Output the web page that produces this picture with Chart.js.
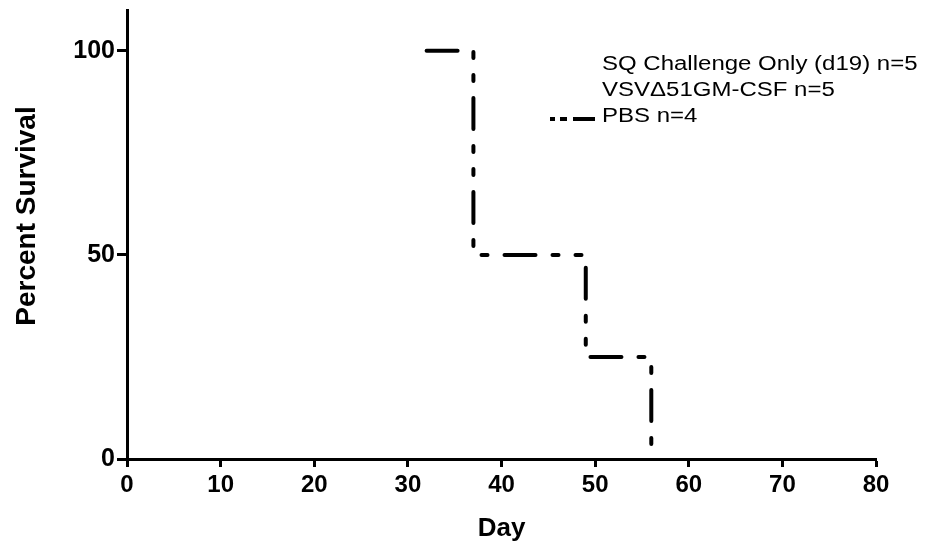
<!DOCTYPE html>
<html>
<head>
<meta charset="utf-8">
<script src="https://cdn.jsdelivr.net/npm/chart.js@4/dist/chart.umd.min.js"></script>
<style>
  html, body { margin: 0; padding: 0; background: #fff; }
</style>
</head>
<body>
<canvas id="survival" width="926" height="549"></canvas>
<script>
// series names as in the legend
const seriesNames = ['SQ Challenge Only (d19) n=5', 'VSV\u039451GM-CSF n=5', 'PBS n=4'];

// no visible curve for the first two groups in the figure
const sqDays = [];
const sqSurvival = [];
const vsvDays = [];
const vsvSurvival = [];

// PBS group, Kaplan-Meier steps (day, percent)
const pbsDays = [32, 37, 37, 49, 49, 56, 56];
const pbsSurvival = [100, 100, 50, 50, 25, 25, 0];

const xTicks = [0, 10, 20, 30, 40, 50, 60, 70, 80];
const yTicks = [0, 50, 100];

const FONT = '"Liberation Sans", Arial, Helvetica, sans-serif';

const toPoints = (xs, ys) => xs.map((x, i) => ({ x: x, y: ys[i] }));

const overlay = {
    id: 'overlay',
    afterDraw(chart) {
        const c = chart.ctx;

        // y axis title
        c.save();
        c.fillStyle = '#000';
        c.font = 'bold 28px ' + FONT;
        c.textAlign = 'center';
        c.textBaseline = 'alphabetic';
        c.translate(35, 216);
        c.rotate(-Math.PI / 2);
        c.fillText('Percent Survival', 0, 0);
        c.restore();

        // legend (top right, inside the plot)
        const baselines = [70, 96, 122];
        c.save();
        c.fillStyle = '#000';
        c.font = '20px ' + FONT;
        c.textBaseline = 'alphabetic';
        seriesNames.forEach((name, i) => {
            c.save();
            c.translate(602, baselines[i]);
            c.scale(1.2, 1);
            c.fillText(name, 0, 0);
            c.restore();
        });
        // only PBS shows a line sample
        c.strokeStyle = '#000';
        c.lineWidth = 4;
        c.setLineDash([5, 5, 7, 6, 22, 0]);
        c.beginPath();
        c.moveTo(550, 119);
        c.lineTo(595, 119);
        c.stroke();
        c.restore();
    }
};

const ctx = document.getElementById('survival').getContext('2d');
new Chart(ctx, {
    type: 'line',
    data: {
        datasets: [
            { label: seriesNames[0], data: toPoints(sqDays, sqSurvival), borderColor: '#000', borderWidth: 4, pointRadius: 0 },
            { label: seriesNames[1], data: toPoints(vsvDays, vsvSurvival), borderColor: '#000', borderWidth: 4, pointRadius: 0 },
            {
                label: seriesNames[2],
                data: toPoints(pbsDays, pbsSurvival),
                borderColor: '#000',
                borderWidth: 4,
                borderDash: [31, 17, 6, 17, 6, 17],
                borderCapStyle: 'round',
                pointRadius: 0,
                tension: 0
            }
        ]
    },
    options: {
        responsive: false,
        animation: false,
        devicePixelRatio: 1,
        layout: { padding: { top: 10, right: 50, left: 0, bottom: 0 } },
        plugins: {
            legend: { display: false },
            tooltip: { enabled: false }
        },
        scales: {
            x: {
                type: 'linear',
                min: 0,
                max: 80,
                afterBuildTicks: s => { s.ticks = xTicks.map(v => ({ value: v })); },
                afterFit: s => { s.height = 90; },
                border: { color: '#000', width: 3 },
                grid: { drawOnChartArea: false, drawTicks: true, tickLength: 8, tickWidth: 3, tickColor: '#000' },
                ticks: { color: '#000', padding: 4, maxRotation: 0, font: { family: FONT, size: 24, weight: 'bold' } },
                title: {
                    display: true,
                    text: 'Day',
                    color: '#000',
                    font: { family: FONT, size: 26, weight: 'bold' },
                    padding: { top: 0, bottom: 5 }
                }
            },
            y: {
                min: 0,
                max: 110,
                afterBuildTicks: s => { s.ticks = yTicks.map(v => ({ value: v })); },
                afterFit: s => { s.width = 127; s.paddingTop = 0; s.paddingBottom = 0; },
                border: { color: '#000', width: 3 },
                grid: { drawOnChartArea: false, drawTicks: true, tickLength: 10, tickWidth: 3, tickColor: '#000' },
                ticks: { color: '#000', padding: 2, font: { family: FONT, size: 25, weight: 'bold' } }
            }
        }
    },
    plugins: [overlay]
});
</script>
</body>
</html>
